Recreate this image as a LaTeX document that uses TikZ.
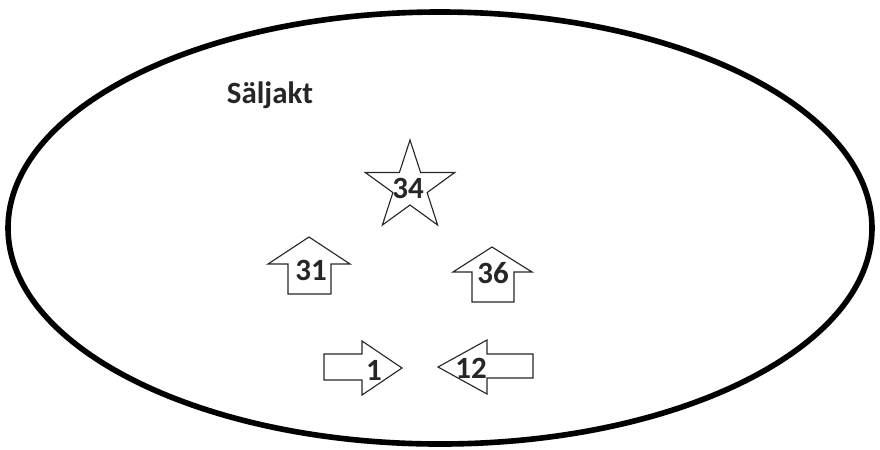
\documentclass[tikz,border=0pt]{standalone}
\usepackage{fontspec}
\setmainfont{Carlito}

\begin{document}
\begin{tikzpicture}[x=0.025cm, y=-0.025cm,
	every node/.style={font=\bfseries\fontsize{22}{24}\selectfont, text=black!85},
	outline/.style={draw=black!85, line width=0.8pt, line join=miter}]
	\useasboundingbox (0,0) rectangle (880,449);
	\draw[line width=4pt] (440,228) ellipse [x radius=432, y radius=216];
	\node (title) at (270,95) {Säljakt};
	% star
	\draw[outline, shift={(410,187)}] (270:47)
		\foreach \k in {0,...,4} {-- (306+72*\k:18) -- (342+72*\k:47)} -- cycle;
	\node (n34) at (408,188) {34};
	% up arrows
	\draw[outline] (309,237) -- (350,264) -- (331,264) -- (331,294) -- (288,294) -- (288,264) -- (268,264) -- cycle;
	\node (n31) at (311,270) {31};
	\draw[outline] (492,247) -- (532,272) -- (514,272) -- (514,302) -- (472,302) -- (472,272) -- (453,272) -- cycle;
	\node (n36) at (493,273) {36};
	% side arrows
	\draw[outline] (402,368) -- (362,395) -- (362,380) -- (324,380) -- (324,354) -- (362,354) -- (362,341) -- cycle;
	\node (n1) at (374,370) {1};
	\draw[outline] (438,367) -- (487,340) -- (487,354) -- (533,354) -- (533,378) -- (487,378) -- (487,394) -- cycle;
	\node (n12) at (471,368) {12};
\end{tikzpicture}
\end{document}
